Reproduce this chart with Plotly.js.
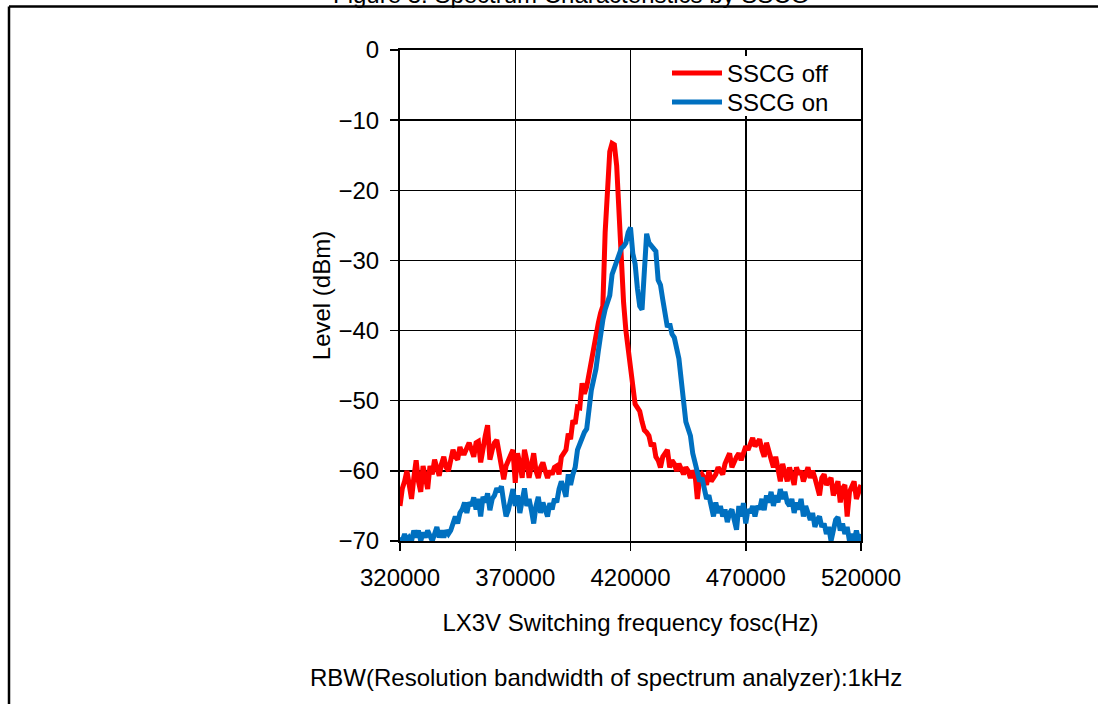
<!DOCTYPE html>
<html><head><meta charset="utf-8">
<script src="https://cdn.plot.ly/plotly-3.0.1.min.js"></script>
<style>html,body{margin:0;padding:0;background:#fff;overflow:hidden}</style>
</head><body><div id="chart" style="width:1098px;height:704px"></div>
<script>
const chartTitle = 'Figure 3. Spectrum Characteristics by SSCG';
const xTitle = 'LX3V Switching frequency fosc(Hz)';
const yTitle = 'Level (dBm)';
const noteText = 'RBW(Resolution bandwidth of spectrum analyzer):1kHz';
const seriesNames = ['SSCG off', 'SSCG on'];
const xTickVals = [320000, 370000, 420000, 470000, 520000];
const xTickText = ['320000', '370000', '420000', '470000', '520000'];
const yTickVals = [0, -10, -20, -30, -40, -50, -60, -70];

const freqHz = [
320000,321000,322000,323000,324000,325000,326000,327000,328000,329000,
330000,331000,332000,333000,334000,335000,336000,337000,338000,339000,
340000,341000,342000,343000,344000,345000,346000,347000,348000,349000,
350000,351000,352000,353000,354000,355000,356000,357000,358000,359000,
360000,361000,362000,363000,364000,365000,366000,367000,368000,369000,
370000,371000,372000,373000,374000,375000,376000,377000,378000,379000,
380000,381000,382000,383000,384000,385000,386000,387000,388000,389000,
390000,391000,392000,393000,394000,395000,396000,397000,398000,399000,
400000,401000,402000,403000,404000,405000,406000,407000,408000,409000,
410000,411000,412000,413000,414000,415000,416000,417000,418000,419000,
420000,421000,422000,423000,424000,425000,426000,427000,428000,429000,
430000,431000,432000,433000,434000,435000,436000,437000,438000,439000,
440000,441000,442000,443000,444000,445000,446000,447000,448000,449000,
450000,451000,452000,453000,454000,455000,456000,457000,458000,459000,
460000,461000,462000,463000,464000,465000,466000,467000,468000,469000,
470000,471000,472000,473000,474000,475000,476000,477000,478000,479000,
480000,481000,482000,483000,484000,485000,486000,487000,488000,489000,
490000,491000,492000,493000,494000,495000,496000,497000,498000,499000,
500000,501000,502000,503000,504000,505000,506000,507000,508000,509000,
510000,511000,512000,513000,514000,515000,516000,517000,518000,519000,
520000];

const levelOff = [
-65,-62.5,-61.5,-60,-62,-64,-61,-58.5,-61.5,-63,
-59.3,-61.5,-62.6,-59.3,-60.5,-58.4,-59.5,-60.7,-59,-58,
-59.5,-60,-58.5,-57,-58,-58.4,-56.6,-57.5,-57.5,-56.5,
-56,-57,-58,-56,-55.8,-58.8,-56.6,-55,-53.5,-58.4,
-57,-56,-55.6,-57.5,-58.8,-61.2,-59.3,-58.5,-57.5,-57,
-61.7,-57.5,-59,-61,-57,-58.5,-61,-59.5,-57.5,-60,
-61,-59.5,-58.8,-60,-61,-60,-60.5,-59.5,-59.3,-60.5,
-58,-57.5,-57,-54.7,-55.5,-52.8,-53.3,-50.9,-51,-47.5,
-49,-48,-46,-44.5,-43,-40.5,-39,-37.5,-36.5,-26,
-20,-14.5,-13.3,-13.5,-16.5,-24,-30,-36,-40,-43,
-45.5,-49,-50.5,-51,-51.5,-53,-54.2,-54.5,-55,-56.5,
-56,-58,-58.5,-59.5,-58,-57.5,-57,-59.5,-58.5,-59,
-60,-59,-60,-60.5,-59.5,-60,-61,-60,-60.5,-64,
-61,-60.5,-61,-62,-60,-61.5,-61,-60.5,-59.5,-60,
-60.5,-59,-58,-57.5,-59.5,-58.5,-58,-57.5,-58.5,-57.5,
-56.5,-57,-56,-55.3,-56.5,-56,-55.5,-57,-58,-56,
-57,-58,-59.5,-58,-60,-61.5,-59,-60,-61.5,-59.5,
-61,-62,-59.5,-60.5,-60,-61.5,-60.5,-59.5,-61,-60,
-61,-62,-63.5,-61,-60.5,-62,-61.5,-61,-63.5,-62.5,
-61.5,-64.5,-62.5,-62,-66.5,-63,-62,-61.5,-64,-63,
-62];

const levelOn = [
-69.5,-70,-69,-70,-69.5,-70,-68.5,-69.5,-68.5,-70,
-68.8,-69.5,-68.5,-69.5,-70,-69,-68,-69.5,-68.5,-69.5,
-68.5,-69,-68.5,-67.5,-66.5,-67.5,-66,-65.5,-64.5,-66,
-64.5,-65,-63.8,-65.5,-64,-66.5,-63.7,-64.5,-63.2,-65.6,
-64,-63.5,-62.5,-63,-62.2,-64.5,-66.5,-65.6,-64,-62.6,
-65,-63.5,-66,-64.5,-62.5,-65,-64,-65.6,-67.5,-65,
-63.7,-66,-64.5,-65.5,-66.5,-64.6,-65.5,-64,-64.5,-62.6,
-61.5,-62.5,-63.7,-60.5,-62,-60.5,-59.5,-57,-56,-55.5,
-54.5,-54,-51,-48.5,-47,-45.5,-43,-40.5,-38.5,-37,
-36,-35,-32,-31,-30,-28.8,-28.3,-28,-27.5,-26,
-25.3,-29,-30.5,-34,-36.5,-37,-30,-26.2,-27.5,-28,
-28.5,-28.7,-32.8,-33.5,-35.6,-38,-39.5,-39,-40.5,-41,
-42.5,-44,-47,-50.5,-53,-54,-55,-57.5,-59,-60,
-61.5,-61,-63,-64,-63.5,-65,-66.5,-64.5,-66,-65,
-66.5,-65.5,-67.3,-66,-65.5,-67,-68.4,-65,-66.5,-64.6,
-67.5,-65.5,-66,-65,-66.5,-65,-65.5,-64,-65.6,-63.5,
-64.5,-63,-65,-63.5,-64.5,-62.6,-64,-63,-64.5,-65,
-64,-66,-64.5,-65.5,-64,-66.5,-65,-66,-67,-66,
-68,-67,-66.5,-68,-67.5,-69,-68,-70,-68.5,-67,
-66.6,-68.5,-67.5,-69,-68,-70,-69,-70,-68.5,-70,
-69];

const FONT = '"Liberation Sans", Arial, sans-serif';

// plot area pixel geometry (for placing the frame, legends and notes)
const L = 400, R = 237, T = 50, B = 163, W = 1098, H = 704;
const pw = W - L - R, ph = H - T - B;
const px2x = p => (p - L) / pw;
const py2y = p => (H - B - p) / ph;

const traces = [
  {x: freqHz, y: levelOff, name: seriesNames[0], type: 'scatter', mode: 'lines',
   legend: 'legend', line: {color: '#FF0000', width: 5}},
  {x: freqHz, y: levelOn, name: seriesNames[1], type: 'scatter', mode: 'lines',
   legend: 'legend2', line: {color: '#0070C0', width: 5}}
];

const legendBase = {xanchor: 'left', yanchor: 'top', bgcolor: 'rgba(0,0,0,0)',
  borderwidth: 0, itemwidth: 50, font: {family: FONT, size: 24, color: '#000'}};

const layout = {
  width: W, height: H,
  margin: {l: L, r: R, t: T, b: B, pad: 0},
  paper_bgcolor: '#fff', plot_bgcolor: '#fff',
  font: {family: FONT, size: 24, color: '#000'},
  showlegend: true,
  legend: Object.assign({}, legendBase, {x: px2x(667), y: py2y(51)}),
  legend2: Object.assign({}, legendBase, {x: px2x(667), y: py2y(80)}),
  xaxis: {range: [320000, 520000], tickvals: xTickVals, ticktext: xTickText,
          showgrid: true, gridcolor: '#000', gridwidth: 1.5,
          showline: true, linecolor: '#000', linewidth: 2, mirror: true,
          ticks: 'outside', ticklen: 8, tickwidth: 1.5, tickcolor: '#000',
          zeroline: false, automargin: false, ticklabelstandoff: 6,
          title: {text: xTitle, standoff: 24, font: {family: FONT, size: 24}}},
  yaxis: {range: [-70, 0], tickvals: yTickVals,
          showgrid: true, gridcolor: '#000', gridwidth: 1.5,
          showline: true, linecolor: '#000', linewidth: 2, mirror: true,
          ticks: 'outside', ticklen: 8, tickwidth: 1.5, tickcolor: '#000',
          zeroline: false, automargin: false, ticklabelstandoff: 6,
          title: {text: yTitle, standoff: 1, font: {family: FONT, size: 24}}},
  annotations: [
    {text: noteText, xref: 'paper', yref: 'paper', x: px2x(606), y: py2y(678),
     xanchor: 'center', yanchor: 'middle', showarrow: false,
     font: {family: FONT, size: 24, color: '#000'}},
    {text: chartTitle, xref: 'paper', yref: 'paper', x: px2x(571), y: py2y(-5.5),
     xanchor: 'center', yanchor: 'middle', showarrow: false,
     font: {family: FONT, size: 24, color: '#000'}}
  ],
  shapes: [
    // white backing of the legend box
    {type: 'rect', xref: 'paper', yref: 'paper', layer: 'above',
     x0: px2x(664), x1: px2x(836), y0: py2y(56), y1: py2y(116),
     fillcolor: '#fff', line: {width: 0}},
    // figure frame
    {type: 'line', xref: 'paper', yref: 'paper', x0: px2x(9), x1: px2x(1100),
     y0: py2y(6.5), y1: py2y(6.5), line: {color: '#000', width: 2.5}},
    {type: 'line', xref: 'paper', yref: 'paper', x0: px2x(9), x1: px2x(9),
     y0: py2y(6.5), y1: py2y(706), line: {color: '#000', width: 2.5}}
  ]
};

Plotly.newPlot('chart', traces, layout, {staticPlot: true, displayModeBar: false});
</script>
</body></html>
